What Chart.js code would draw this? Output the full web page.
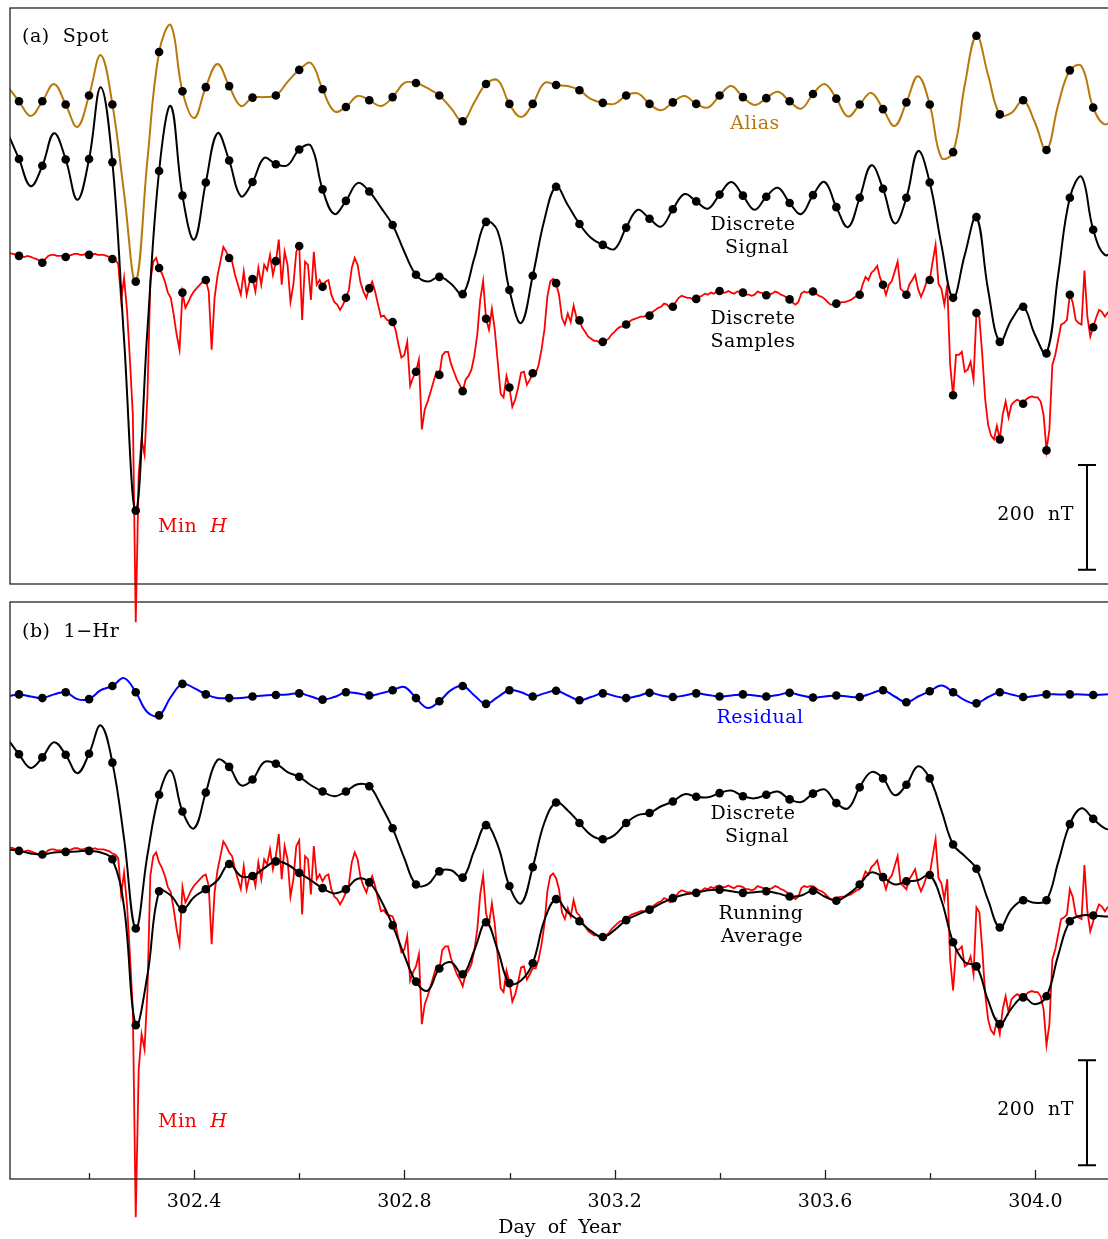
<!DOCTYPE html>
<html>
<head>
<meta charset="utf-8">
<script src="https://cdn.jsdelivr.net/npm/chart.js@4.4.1/dist/chart.umd.min.js"></script>
<style>
  html, body { margin: 0; padding: 0; background: #fff; overflow: hidden; width: 1108px; height: 1239px; }
  canvas { position: absolute; left: 0; top: 0; }
</style>
</head>
<body>
<canvas id="hourly" width="1120" height="1239" style="width:1120px;height:1239px"></canvas>
<canvas id="spot" width="1120" height="1239" style="width:1120px;height:1239px"></canvas>
<script>
// time base (day of year)
const T0 = 302.0671;   // first hourly sample
const DT = 0.04441;    // spacing of the hourly samples
const X_MIN = 302.050, X_MAX = 304.140;
const Y_MIN = -628, Y_MAX = 471;   // nT, same window in both panels
const BAR_NT = 200;

const xTicks = [302.2, 302.4, 302.6, 302.8, 303.0, 303.2, 303.4, 303.6, 303.8, 304.0];
const majorTicks = [302.4, 302.8, 303.2, 303.6, 304.0];

// 1-minute H (nT), read every eighth of a sample step, starting half a step before the first sample
const minuteH = [
  4, 3, 2, 0, -2, -4, -4, -2, -4, -6,
  -8, -11, -15, -8, -2, 0, 0, -2, -2, -2,
  -4, -2, 0, 2, 2, 0, 0, 2, 0, 0,
  2, 0, 0, 0, -2, -4, -8, -10, -17, -86,
  -44, -105, -200, -305, -701, -420, -352, -381, -270, -50,
  -13, -6, -25, -36, -51, -72, -82, -114, -152, -181,
  -72, -101, -90, -78, -69, -63, -57, -51, -48, -70,
  -181, -82, -40, -13, 15, 6, -6, -13, -38, -57,
  -76, -32, -76, -51, -46, -70, -25, -57, -19, -29,
  0, -38, -13, 29, -57, 6, -19, -90, -57, 6,
  17, -124, -13, -19, -86, 6, -57, -48, -61, -51,
  -48, -76, -90, -95, -105, -95, -82, -67, -25, -6,
  -19, -53, -70, -82, -63, -51, -70, -95, -118, -116,
  -124, -126, -128, -143, -171, -196, -191, -166, -250, -234,
  -223, -200, -333, -295, -280, -261, -242, -223, -229, -192,
  -185, -185, -208, -223, -238, -248, -261, -238, -231, -219,
  -192, -152, -86, -50, -122, -143, -103, -143, -204, -265,
  -272, -231, -253, -290, -276, -253, -225, -223, -248, -238,
  -227, -227, -210, -181, -143, -80, -51, -46, -55, -76,
  -120, -133, -112, -128, -97, -120, -126, -139, -147, -156,
  -160, -164, -164, -168, -166, -164, -160, -152, -147, -141,
  -137, -137, -133, -128, -124, -122, -120, -118, -118, -116,
  -116, -109, -105, -101, -99, -93, -95, -101, -99, -90,
  -82, -78, -80, -82, -82, -86, -84, -80, -78, -74,
  -76, -72, -74, -70, -69, -72, -72, -69, -72, -74,
  -70, -70, -72, -76, -76, -78, -76, -70, -72, -74,
  -76, -76, -74, -70, -72, -76, -78, -82, -86, -91,
  -95, -90, -74, -70, -72, -70, -70, -74, -78, -80,
  -84, -90, -95, -95, -93, -91, -90, -90, -88, -86,
  -82, -78, -76, -57, -42, -48, -34, -29, -21, -44,
  -57, -76, -57, -50, -32, -13, -65, -70, -76, -57,
  -48, -38, -65, -80, -67, -50, -48, -13, 19, -55,
  -65, -95, -57, -210, -269, -191, -191, -185, -223, -219,
  -204, -238, -111, -120, -191, -276, -324, -345, -352, -326,
  -352, -305, -280, -310, -286, -280, -276, -280, -284, -276,
  -272, -270, -272, -272, -280, -305, -373, -333, -210, -191,
  -162, -133, -130, -124, -76, -91, -124, -130, -133, -30,
  -118, -156, -137, -120, -105, -109, -118, -110, -110
];

// hourly discrete samples of H (nT)
const samplesA = [
  -2, -15, -4, 0, -8, -674, -25, -72, -48, -6, -46, -12, 17, -61, -82, -64,
  -128, -223, -229, -260, -122, -253, -226, -54, -125, -166, -133, -116, -99, -84, -69, -72,
  -77, -85, -70, -93, -76, -57, -76, -48, -268, -111, -352, -284, -373, -76, -138
];

// smooth curves, read every half step from half a step before the first sample (nT, offset traces)
const aliasA = [
  322, 293, 265, 293, 326, 287, 244, 304, 381, 287, 118, -51, 181, 387, 438, 312,
  261, 320, 364, 322, 284, 300, 301, 304, 330, 353, 366, 316, 274, 282, 303, 295,
  284, 301, 328, 328, 318, 304, 280, 255, 291, 326, 333, 288, 263, 288, 328, 324,
  322, 314, 297, 290, 288, 304, 308, 288, 276, 291, 303, 288, 281, 304, 322, 301,
  286, 299, 311, 293, 279, 307, 326, 298, 264, 287, 309, 278, 246, 291, 341, 287,
  185, 196, 324, 418, 343, 268, 271, 295, 253, 200, 286, 352, 360, 281, 249, 267
];
const signalA = [
  234, 183, 131, 170, 232, 182, 105, 183, 320, 177, -162, -488, -143, 160, 284, 113,
  29, 138, 232, 180, 112, 139, 185, 173, 171, 201, 208, 125, 78, 103, 137, 121,
  90, 57, 6, -38, -51, -42, -55, -75, -6, 63, 45, -67, -130, -40, 67, 130,
  95, 59, 32, 19, 11, 52, 86, 69, 54, 87, 116, 102, 88, 115, 139, 113,
  86, 111, 128, 99, 78, 114, 139, 91, 53, 109, 171, 126, 60, 109, 198, 138,
  19, -82, 0, 72, -67, -166, -124, -99, -152, -188, -38, 109, 149, 48, 0, 13
];
const residualB = [
  291, 295, 291, 288, 295, 299, 286, 286, 303, 311, 326, 299, 261, 255, 290, 315,
  307, 295, 288, 288, 288, 291, 293, 294, 295, 297, 291, 285, 290, 299, 297, 293,
  297, 303, 309, 288, 269, 282, 303, 311, 293, 277, 290, 303, 299, 291, 297, 302,
  293, 284, 290, 297, 292, 288, 292, 298, 293, 290, 293, 297, 294, 291, 293, 295,
  293, 291, 294, 298, 293, 289, 291, 293, 291, 290, 297, 303, 291, 280, 291, 301,
  312, 299, 284, 278, 290, 299, 295, 290, 292, 295, 295, 295, 295, 294, 295, 295
];
const signalB = [
  211, 181, 155, 175, 204, 180, 145, 182, 236, 165, 20, -151, -11, 104, 150, 72,
  40, 108, 170, 157, 122, 133, 166, 163, 147, 138, 122, 110, 101, 110, 124, 120,
  84, 40, -17, -67, -67, -42, -40, -54, -2, 46, 8, -70, -103, -34, 51, 89,
  74, 50, 27, 19, 27, 50, 65, 69, 82, 91, 105, 100, 99, 107, 112, 101,
  97, 104, 110, 95, 90, 106, 114, 88, 78, 118, 147, 135, 103, 123, 158, 135,
  74, 9, -13, -37, -97, -149, -114, -97, -102, -97, -25, 48, 78, 58, 40, 36
];
const runningB = [
  0, -3, -8, -10, -6, -5, -4, -3, -6, -19, -110, -335, -240, -80, -88, -114,
  -91, -76, -59, -28, -51, -51, -36, -23, -29, -45, -59, -74, -84, -76, -56, -63,
  -97, -145, -202, -252, -269, -227, -215, -238, -192, -139, -192, -255, -250, -217, -135, -95,
  -120, -137, -156, -167, -154, -135, -124, -115, -103, -93, -86, -83, -78, -77, -80, -83,
  -82, -80, -84, -90, -88, -79, -90, -98, -86, -67, -44, -53, -67, -61, -59, -49,
  -97, -177, -215, -223, -288, -333, -303, -282, -295, -280, -202, -137, -126, -126, -128, -128
];

const toPts = (vals, first, step) => vals.map((v, n) => ({x: T0 + (n + first) * step, y: v}));
const onHour = vals => vals.filter((v, n) => n % 2 === 1);

const FONT = '"DejaVu Serif", serif';
const ALIAS_C = '#b8790c';

const line = (data, color, width, order, tension) => ({
  data, showLine: true, borderColor: color, borderWidth: width, pointRadius: 0,
  tension, order, clip: {left: 0, top: 0, right: 0, bottom: false}
});
const dots = data => ({
  data, showLine: false, pointRadius: 4.3, pointBackgroundColor: '#000',
  pointBorderWidth: 0, order: 0, clip: {left: 0, top: 0, right: 0, bottom: false}
});

const decor = {
  id: 'decor',
  afterDraw(chart, args, o) {
    const {ctx, chartArea: a, scales} = chart;
    ctx.save();
    ctx.strokeStyle = '#222';
    ctx.lineWidth = 1.3;
    ctx.strokeRect(a.left, a.top, a.right - a.left + 20, a.bottom - a.top);

    if (o.ticks) {
      xTicks.forEach(v => {
        const px = Math.round(scales.x.getPixelForValue(v)) + 0.5;
        const len = majorTicks.includes(v) ? 9 : 6;
        ctx.beginPath();
        ctx.moveTo(px, a.bottom);
        ctx.lineTo(px, a.bottom - len);
        ctx.stroke();
      });
    }

    // 200 nT bar
    const bx = a.left + o.barDx;
    const y1 = scales.y.getPixelForValue(o.barFrom);
    const y2 = scales.y.getPixelForValue(o.barFrom + BAR_NT);
    ctx.strokeStyle = '#000';
    ctx.lineWidth = 2;
    ctx.beginPath();
    ctx.moveTo(bx, y1); ctx.lineTo(bx, y2);
    ctx.moveTo(bx - 9, y1); ctx.lineTo(bx + 9, y1);
    ctx.moveTo(bx - 9, y2); ctx.lineTo(bx + 9, y2);
    ctx.stroke();

    ctx.textBaseline = 'middle';
    ctx.letterSpacing = '0.5px';
    o.texts.forEach(t => {
      const runs = t.runs || [[t.text, '']];
      let w = 0;
      runs.forEach(([s, st]) => { ctx.font = `${st} 19px ${FONT}`; w += ctx.measureText(s).width; });
      let x = a.left + t.dx;
      if (t.align === 'center') x -= w / 2;
      if (t.align === 'right') x -= w;
      ctx.fillStyle = t.color || '#000';
      ctx.textAlign = 'left';
      runs.forEach(([s, st]) => {
        ctx.font = `${st} 19px ${FONT}`;
        ctx.fillText(s, x, a.top + t.dy);
        x += ctx.measureText(s).width;
      });
    });
    ctx.restore();
  }
};

const minH = {runs: [['Min  ', ''], ['H', 'italic']], color: '#ff0000', align: 'left', dx: 148};
const scaleLbl = {text: BAR_NT + '  nT', align: 'right', dx: 1064};

const baseOptions = (padding, xAxis, deco) => ({
  responsive: false,
  animation: false,
  events: [],
  layout: {padding},
  scales: {
    x: Object.assign({type: 'linear', min: X_MIN, max: X_MAX}, xAxis),
    y: {type: 'linear', min: Y_MIN, max: Y_MAX, display: false}
  },
  plugins: {legend: {display: false}, tooltip: {enabled: false}, decor: deco}
});

// panel (a) spot samples
new Chart(document.getElementById('spot'), {
  type: 'scatter',
  data: {
    datasets: [
      dots(toPts(onHour(aliasA), 0, DT)),
      dots(toPts(onHour(signalA), 0, DT)),
      dots(toPts(samplesA, 0, DT)),
      line(toPts(aliasA, -1, DT / 2), ALIAS_C, 2, 1, 0.4),
      line(toPts(signalA, -1, DT / 2), '#000', 2, 1, 0.4),
      line(toPts(minuteH, -4, DT / 8), '#ff0000', 1.8, 2, 0)
    ]
  },
  options: baseOptions({left: 10, top: 8, right: 11, bottom: 655}, {display: false}, {
    ticks: false, barDx: 1077, barFrom: -601,
    texts: [
      {text: '(a)  Spot', align: 'left', dx: 12, dy: 29},
      {text: 'Alias', align: 'center', dx: 745, dy: 116, color: ALIAS_C},
      {text: 'Discrete', align: 'center', dx: 743, dy: 217},
      {text: 'Signal', align: 'center', dx: 747, dy: 240},
      {text: 'Discrete', align: 'center', dx: 743, dy: 311},
      {text: 'Samples', align: 'center', dx: 743, dy: 334},
      Object.assign({dy: 519}, minH),
      Object.assign({dy: 507}, scaleLbl)
    ]
  }),
  plugins: [decor]
});

// panel (b) 1-hr running average
new Chart(document.getElementById('hourly'), {
  type: 'scatter',
  data: {
    datasets: [
      dots(toPts(onHour(residualB), 0, DT)),
      dots(toPts(onHour(signalB), 0, DT)),
      dots(toPts(onHour(runningB), 0, DT)),
      line(toPts(residualB, -1, DT / 2), '#0000ff', 2, 1, 0.4),
      line(toPts(signalB, -1, DT / 2), '#000', 2, 1, 0.4),
      line(toPts(runningB, -1, DT / 2), '#000', 2, 1, 0.4),
      line(toPts(minuteH, -4, DT / 8), '#ff0000', 1.8, 2, 0)
    ]
  },
  options: baseOptions({left: 10, top: 602, right: 11, bottom: 0}, {
    afterBuildTicks: s => { s.ticks = xTicks.map(v => ({value: v})); },
    afterFit: s => { s.height = 60; },
    grid: {display: false, drawTicks: false},
    border: {display: false},
    ticks: {
      autoSkip: false, maxRotation: 0, padding: 12, color: '#000',
      font: {family: 'DejaVu Serif', size: 19},
      callback: v => majorTicks.includes(v) ? v.toFixed(1) : ''
    },
    title: {
      display: true, text: 'Day  of  Year', color: '#000',
      font: {family: 'DejaVu Serif', size: 19}, padding: {top: 0, bottom: 0}
    }
  }, {
    ticks: true, barDx: 1077, barFrom: -602,
    texts: [
      {text: '(b)  1\u2212Hr', align: 'left', dx: 12, dy: 30},
      {text: 'Residual', align: 'center', dx: 750, dy: 116, color: '#0000ff'},
      {text: 'Discrete', align: 'center', dx: 743, dy: 212},
      {text: 'Signal', align: 'center', dx: 747, dy: 235},
      {text: 'Running', align: 'center', dx: 751, dy: 312},
      {text: 'Average', align: 'center', dx: 752, dy: 335},
      Object.assign({dy: 520}, minH),
      Object.assign({dy: 508}, scaleLbl)
    ]
  }),
  plugins: [decor]
});
</script>
</body>
</html>
